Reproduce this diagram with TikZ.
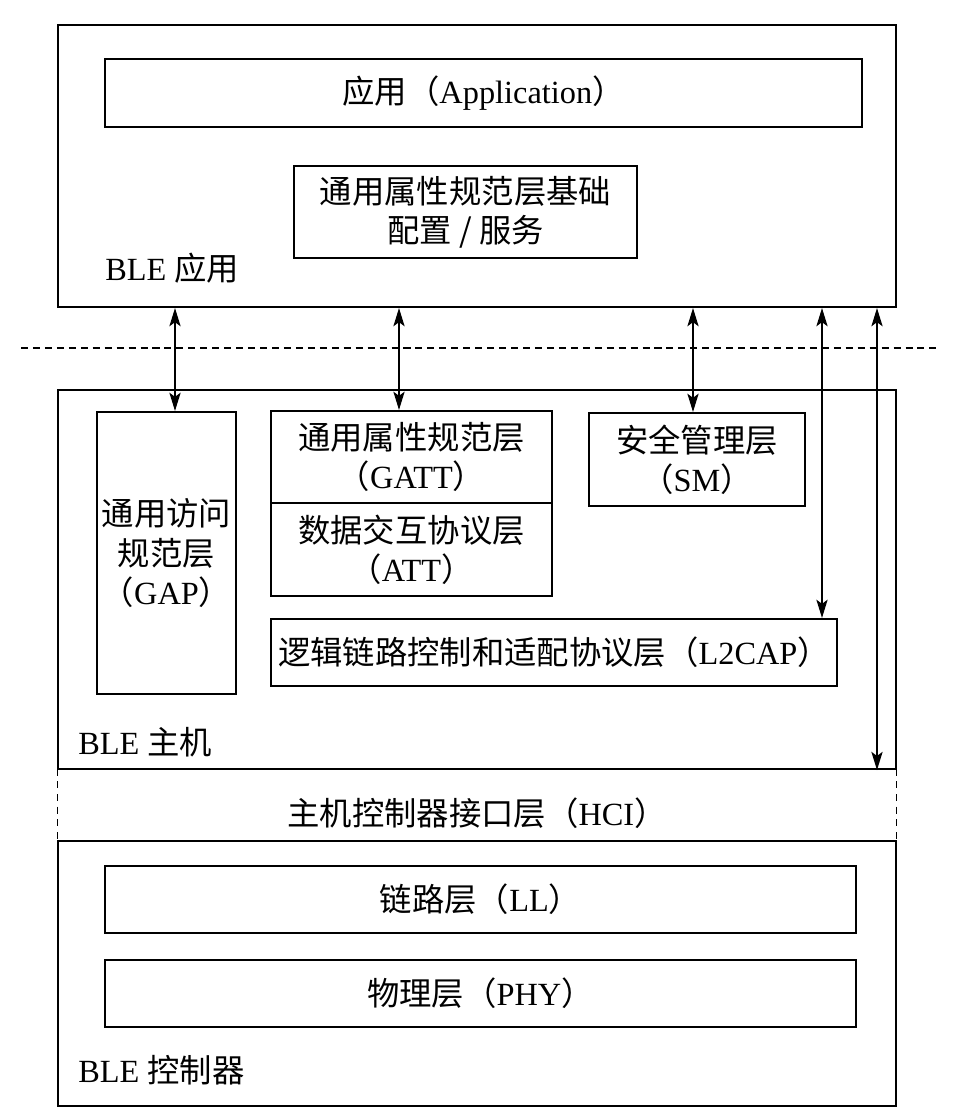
\documentclass[tikz,border=0pt]{standalone}
\usepackage{fontspec}
\setmainfont{Liberation Serif}
\newfontfamily\cjk{Noto Sans CJK SC}
\usetikzlibrary{arrows.meta}
\newcommand\zh[1]{{\cjk #1}}
\begin{document}
\begin{tikzpicture}[x=0.025cm,y=-0.025cm,
  every node/.style={font=\fontsize{23}{28}\selectfont},
  box/.style 2 args={draw,line width=1.5pt,minimum width=#1*0.025cm,minimum height=#2*0.025cm,inner sep=0pt,align=center},
  link/.style={arrows={Stealth[length=13pt,width=8pt,inset=3pt]-Stealth[length=13pt,width=8pt,inset=3pt]},line width=1.1pt},
  tag/.style={anchor=west,inner sep=0pt}]
  \useasboundingbox (0,0) rectangle (956,1114);
  \node[box={838}{282}] (app) at (477,166) {};
  \node[box={757}{68}] (appl) at (483.5,93) {\zh{应用（}Application\zh{）}};
  \node[box={343}{92}] (base) at (465.5,212) {\zh{通用属性规范层基础}\\\zh{配置 / 服务}};
  \node[tag] (bleapp) at (105,268) {BLE \zh{应用}};
  \draw[line width=1.1pt,dash pattern=on 5pt off 3.5pt] (21,348) -- (940,348);
  \node[box={838}{379}] (host) at (477,579.5) {};
  \node[box={139}{282}] (gap) at (166.5,553) {\zh{通用访问}\\\zh{规范层}\\\zh{（}GAP\zh{）}};
  \node[box={281}{92}] (gatt) at (411.5,457) {\zh{通用属性规范层}\\\zh{（}GATT\zh{）}};
  \node[box={281}{93}] (att) at (411.5,549.5) {\zh{数据交互协议层}\\\zh{（}ATT\zh{）}};
  \node[box={216}{93}] (sm) at (697,459.5) {\zh{安全管理层}\\\zh{（}SM\zh{）}};
  \node[box={566}{67}] (l2cap) at (554,652.5) {\zh{逻辑链路控制和适配协议层（}L2CAP\zh{）}};
  \node[tag] (blehost) at (78,742) {BLE \zh{主机}};
  \node[minimum width=838*0.025cm,minimum height=72*0.025cm,inner sep=0pt] (hci) at (477,805) {};
  \node (hcitext) at (477,813) {\zh{主机控制器接口层（}HCI\zh{）}};
  \draw[line width=1.1pt,dash pattern=on 5pt off 4pt] (hci.north west) -- (hci.south west);
  \draw[line width=1.1pt,dash pattern=on 5pt off 4pt] (hci.north east) -- (hci.south east);
  \node[box={838}{265}] (ctrl) at (477,973.5) {};
  \node[box={751}{67}] (ll) at (480.5,899.5) {\zh{链路层（}LL\zh{）}};
  \node[box={751}{67}] (phy) at (480.5,993.5) {\zh{物理层（}PHY\zh{）}};
  \node[tag] (blectrl) at (78,1070) {BLE \zh{控制器}};
  \coordinate (a1) at (175,0);
  \coordinate (a2) at (399,0);
  \coordinate (a3) at (693,0);
  \coordinate (a4) at (822,0);
  \coordinate (a5) at (877,0);
  \draw[link] (app.south -| a1) -- (gap.north -| a1);
  \draw[link] (app.south -| a2) -- (gatt.north -| a2);
  \draw[link] (app.south -| a3) -- (sm.north -| a3);
  \draw[link] (app.south -| a4) -- (l2cap.north -| a4);
  \draw[link] (app.south -| a5) -- (host.south -| a5);
\end{tikzpicture}
\end{document}
